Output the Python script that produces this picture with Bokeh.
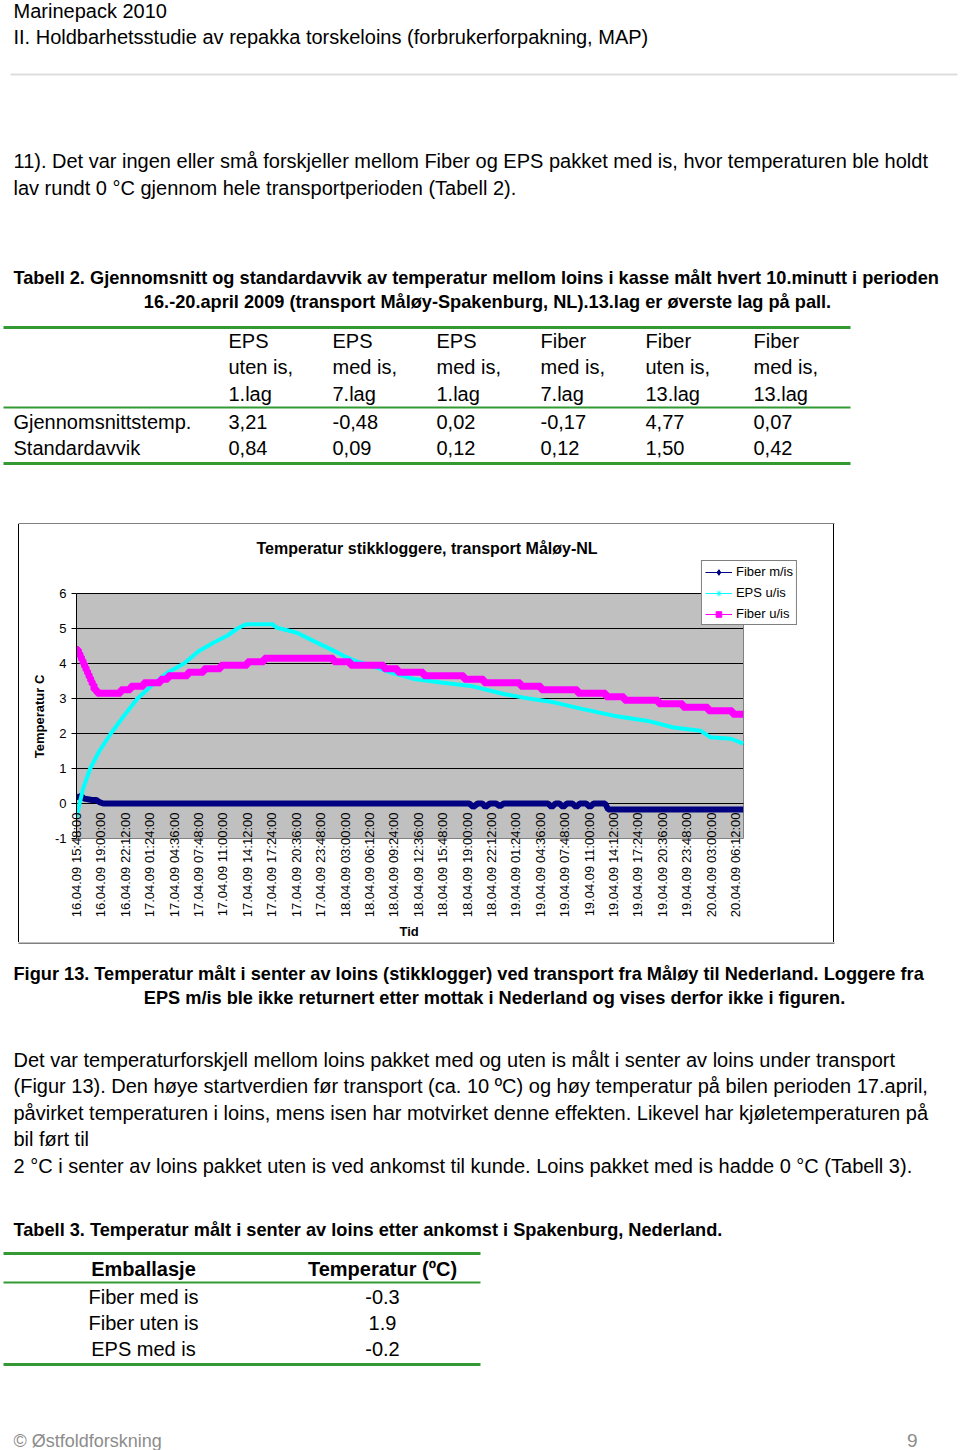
import math
import datetime as dt
from bokeh.plotting import figure
from bokeh.layouts import column, row
from bokeh.models import (Range1d, FixedTicker, Legend, LegendItem, ColumnDataSource, Spacer, Title)
from bokeh.core.properties import value
from bokeh.embed import file_html
from bokeh.resources import INLINE

FONT = "Liberation Sans"

# ---------------- chart data ----------------
chart_title = "Temperatur stikkloggere, transport Måløy-NL"
x_title = "Tid"
y_title = "Temperatur C"
x_labels = ["16.04.09 15:48:00", "16.04.09 19:00:00", "16.04.09 22:12:00", "17.04.09 01:24:00",
            "17.04.09 04:36:00", "17.04.09 07:48:00", "17.04.09 11:00:00", "17.04.09 14:12:00",
            "17.04.09 17:24:00", "17.04.09 20:36:00", "17.04.09 23:48:00", "18.04.09 03:00:00",
            "18.04.09 06:12:00", "18.04.09 09:24:00", "18.04.09 12:36:00", "18.04.09 15:48:00",
            "18.04.09 19:00:00", "18.04.09 22:12:00", "19.04.09 01:24:00", "19.04.09 04:36:00",
            "19.04.09 07:48:00", "19.04.09 11:00:00", "19.04.09 14:12:00", "19.04.09 17:24:00",
            "19.04.09 20:36:00", "19.04.09 23:48:00", "20.04.09 03:00:00", "20.04.09 06:12:00"]
x_end_hours = 87.44          # right edge of the grey plot area
y_ticks = [-1, 0, 1, 2, 3, 4, 5, 6]

# Fiber m/is (hours since first label, deg C)
fiber_mi_hours = [0.0, 0.3, 0.6, 1.0, 1.5, 2.0, 2.6, 3.0, 3.5, 51.5, 52.0, 52.6, 53.2, 53.6, 54.2,
                  55.0, 55.5, 56.0, 61.8, 62.3, 62.8, 63.3, 63.8, 64.3, 65.0, 65.5, 66.0, 66.8,
                  67.3, 67.8, 69.3, 69.7, 87.4]
fiber_mi_temp = [0.20, 0.18, 0.22, 0.14, 0.12, 0.10, 0.10, 0.04, 0.00, 0.00, -0.10, 0.00, 0.00,
                 -0.10, 0.00, 0.00, -0.08, 0.00, 0.00, -0.10, 0.00, 0.00, -0.10, 0.00, 0.00,
                 -0.10, 0.00, 0.00, -0.10, 0.00, 0.00, -0.17, -0.17]

# EPS u/is
eps_ui_hours = [0.0, 0.4, 0.9, 1.8, 3.0, 4.5, 6.2, 8.0, 10.0, 12.0, 14.1, 16.0, 18.0, 19.8, 21.1,
                22.2, 25.7, 26.3, 28.9, 31.1, 33.3, 35.0, 36.6, 38.5, 41.2, 44.2, 47.8, 51.7,
                56.0, 59.5, 62.6, 66.1, 70.4, 74.9, 78.3, 81.8, 83.1, 85.8, 87.4]
eps_ui_temp = [-0.40, 0.00, 0.45, 1.00, 1.50, 2.00, 2.50, 3.00, 3.40, 3.75, 4.00, 4.35, 4.60,
               4.80, 5.00, 5.12, 5.12, 5.02, 4.88, 4.64, 4.41, 4.22, 4.07, 3.95, 3.74, 3.56,
               3.46, 3.36, 3.13, 2.99, 2.89, 2.71, 2.51, 2.36, 2.17, 2.08, 1.89, 1.85, 1.71]

# Fiber u/is (step change times and levels)
fiber_ui_hours = [0.0, 0.25, 0.45, 0.65, 0.85, 1.05, 1.25, 1.45, 1.65, 1.85, 2.05, 2.3, 2.7, 5.8,
                  7.1, 8.8, 11.0, 12.0, 14.6, 16.7, 18.9, 22.4, 24.6, 33.7, 35.9, 40.3, 42.1,
                  45.5, 50.8, 53.4, 58.2, 60.9, 65.7, 69.4, 71.8, 76.3, 79.5, 82.8, 86.0, 87.4]
fiber_ui_temp = [4.40, 4.30, 4.20, 4.10, 4.00, 3.90, 3.80, 3.70, 3.60, 3.50, 3.40, 3.25, 3.15,
                 3.25, 3.35, 3.45, 3.55, 3.65, 3.75, 3.85, 3.95, 4.05, 4.15, 4.05, 3.95, 3.85,
                 3.75, 3.65, 3.55, 3.45, 3.35, 3.25, 3.15, 3.05, 2.95, 2.85, 2.75, 2.65, 2.55,
                 2.55]

series_names = ["Fiber m/is", "EPS u/is", "Fiber u/is"]
series_colors = ["#000080", "#00FFFF", "#FF00FF"]
series_markers = ["diamond", "asterisk", "square"]

# ---------------- table data ----------------
t2_head1 = ["EPS", "EPS", "EPS", "Fiber", "Fiber", "Fiber"]
t2_head2 = ["uten is,", "med is,", "med is,", "med is,", "uten is,", "med is,"]
t2_head3 = ["1.lag", "7.lag", "1.lag", "7.lag", "13.lag", "13.lag"]
t2_rows = ["Gjennomsnittstemp.", "Standardavvik"]
t2_mean = ["3,21", "-0,48", "0,02", "-0,17", "4,77", "0,07"]
t2_sd = ["0,84", "0,09", "0,12", "0,12", "1,50", "0,42"]

t3_head = ["Emballasje", "Temperatur (ºC)"]
t3_pack = ["Fiber med is", "Fiber uten is", "EPS med is"]
t3_temp = ["-0.3", "1.9", "-0.2"]

GREEN = "#339933"
CAP = 18.2


def page_fig(w, h, x0, y0):
    p = figure(width=w, height=h, x_range=Range1d(x0, x0 + w), y_range=Range1d(y0 + h, y0),
               output_backend="svg", toolbar_location=None, min_border=0,
               x_axis_type=None, y_axis_type=None)
    p.grid.visible = False
    p.outline_line_color = None
    p.background_fill_color = "white"
    p.border_fill_color = "white"
    return p


def txt(p, x, y, s, size=20, bold=False, align="left", color="#000000"):
    p.text(x=[x], y=[y], text=[s], text_font=value(FONT), text_font_size=f"{size}px",
           text_font_style="bold" if bold else "normal", text_align=align,
           text_baseline="middle", text_color=color)


def hline(p, x0, x1, y, color, w):
    p.line(x=[x0, x1], y=[y, y], line_color=color, line_width=w)


# ---------------- top page part (y 0..524) ----------------
top = page_fig(960, 524, 0, 0)
txt(top, 13, 10, "Marinepack 2010")
txt(top, 13, 36.5, "II. Holdbarhetsstudie av repakka torskeloins (forbrukerforpakning, MAP)")
hline(top, 10, 957, 74, "#dddddd", 2)
txt(top, 13, 160.5, "11). Det var ingen eller små forskjeller mellom Fiber og EPS pakket med is, hvor temperaturen ble holdt")
txt(top, 13, 187.5, "lav rundt 0 °C gjennom hele transportperioden (Tabell 2).")
txt(top, 13, 277, "Tabell 2. Gjennomsnitt og standardavvik av temperatur mellom loins i kasse målt hvert 10.minutt i perioden", CAP, True)
txt(top, 487, 301, "16.-20.april 2009 (transport Måløy-Spakenburg, NL).13.lag er øverste lag på pall.", CAP, True, "center")

hline(top, 3, 850, 327, GREEN, 3)
col_x = [228, 332, 436, 540, 645, 753]
for i, cx in enumerate(col_x):
    txt(top, cx, 340, t2_head1[i])
    txt(top, cx, 366, t2_head2[i])
    txt(top, cx, 393, t2_head3[i])
    txt(top, cx, 421, t2_mean[i])
    txt(top, cx, 447, t2_sd[i])
hline(top, 3, 850, 407, GREEN, 2)
txt(top, 13, 421, t2_rows[0])
txt(top, 13, 447, t2_rows[1])
hline(top, 3, 850, 463, GREEN, 3)
hline(top, 18, 834, 523.5, "#000000", 1)     # chart box, top edge

# ---------------- chart (canvas page x 19..833, y 524..942) ----------------
t0 = dt.datetime.strptime(x_labels[0], "%d.%m.%y %H:%M:%S")
tick_min = [int((dt.datetime.strptime(s, "%d.%m.%y %H:%M:%S") - t0).total_seconds() // 60) for s in x_labels]
x_end = x_end_hours * 60
# grey plot area: px 76..743 x 593..838 ; frame: px 76..797 x 560..872 (covers legend/title strip)
px_per_min = (743 - 76) / x_end
px_per_deg = (838 - 593) / (y_ticks[-1] - y_ticks[0])
x_frame_end = x_end + (797 - 743) / px_per_min
y_frame_top = y_ticks[-1] + (593 - 560) / px_per_deg
y_frame_bot = y_ticks[0] - (872 - 838) / px_per_deg

chart = figure(width=814, height=418, x_range=Range1d(0, x_frame_end),
               y_range=Range1d(y_frame_bot, y_frame_top),
               output_backend="svg", toolbar_location=None,
               min_border_left=57, min_border_right=36, min_border_top=36, min_border_bottom=70,
               background_fill_color="white", border_fill_color="white")
chart.outline_line_color = None
chart.title.text = chart_title
chart.title.text_font = FONT
chart.title.text_font_size = "16px"
chart.title.text_font_style = "bold"
chart.title.text_color = "#000000"
chart.title.align = "left"
chart.title.offset = 180
chart.title.standoff = 7

# grey plot area, its border, grid lines and the category axis line at 0
chart.quad(left=[0], right=[x_end], bottom=[y_ticks[0]], top=[y_ticks[-1]],
           fill_color="#c0c0c0", line_color=None, level="image")
grid_y = [t for t in y_ticks if t > 0]
chart.segment(x0=[0] * len(grid_y), x1=[x_end] * len(grid_y), y0=grid_y, y1=grid_y,
              line_color="#000000", line_width=1, level="underlay")
chart.line(x=[0, x_end, x_end], y=[y_ticks[0], y_ticks[0], y_ticks[-1]], line_color="#808080",
           line_width=1, level="underlay")
chart.line(x=[0, x_end], y=[0, 0], line_color="#000000", line_width=1, level="underlay")

xa = chart.xaxis[0]
xa.ticker = FixedTicker(ticks=tick_min)
xa.bounds = (0, x_end)
xa.major_label_overrides = {m: s for m, s in zip(tick_min, x_labels)}
xa.major_label_orientation = math.pi / 2
xa.major_label_text_font = FONT
xa.major_label_text_font_size = "13px"
xa.major_label_text_color = "#000000"
xa.major_label_standoff = 812 - 872
xa.major_tick_out = 0
xa.major_tick_in = 0
xa.minor_tick_out = 0
xa.minor_tick_in = 0
xa.axis_line_color = None

tid = Title(text=x_title, align="left", offset=323, vertical_align="bottom", standoff=3,
            text_font=FONT, text_font_size="13px", text_font_style="bold", text_color="#000000")
chart.add_layout(tid, "below")

ya = chart.yaxis[0]
ya.ticker = FixedTicker(ticks=y_ticks)
ya.bounds = (y_ticks[0], y_ticks[-1])
ya.major_label_overrides = {t: str(t) for t in y_ticks}
ya.major_label_text_font = FONT
ya.major_label_text_font_size = "13px"
ya.major_label_text_color = "#000000"
ya.major_tick_out = 5
ya.major_tick_in = 0
ya.minor_tick_out = 0
ya.minor_tick_in = 0
ya.major_label_standoff = 5
ya.axis_line_color = "#000000"
ya.axis_label = y_title
ya.axis_label_text_font = FONT
ya.axis_label_text_font_size = "13px"
ya.axis_label_text_font_style = "bold"
ya.axis_label_text_color = "#000000"
ya.axis_label_standoff = 5

chart.grid.visible = False

chart.line(x=[h * 60 for h in fiber_mi_hours], y=fiber_mi_temp, line_color=series_colors[0], line_width=6)
chart.line(x=[h * 60 for h in eps_ui_hours], y=eps_ui_temp, line_color=series_colors[1], line_width=4)
chart.step(x=[h * 60 for h in fiber_ui_hours], y=fiber_ui_temp, mode="after",
           line_color=series_colors[2], line_width=7)

# legend glyphs (one invisible NaN point each, so the legend can draw line + marker)
leg_src = ColumnDataSource(data=dict(x=[float("nan")], y=[float("nan")]))
items = []
for name, col, mk, sz in zip(series_names, series_colors, series_markers, [9, 8, 6]):
    lr = chart.line(x="x", y="y", source=leg_src, line_color=col, line_width=1)
    sr = chart.scatter(x="x", y="y", source=leg_src, marker=mk, size=sz, line_color=col, fill_color=col)
    items.append(LegendItem(label=name, renderers=[lr, sr]))
legend = Legend(items=items, location="top_right", border_line_color="#000000", border_line_width=1,
                background_fill_color="white", background_fill_alpha=1.0,
                label_text_font=FONT, label_text_font_size="13px", label_text_color="#000000",
                glyph_width=27, glyph_height=14, label_height=14, label_standoff=4,
                spacing=6, padding=3, margin=0)
chart.add_layout(legend)

# ---------------- bottom page part (y 942..1450) ----------------
bot = page_fig(960, 508, 0, 942)
hline(bot, 18, 834, 942.5, "#000000", 1)     # chart box, bottom edge
txt(bot, 13, 973, "Figur 13. Temperatur målt i senter av loins (stikklogger) ved transport fra Måløy til Nederland. Loggere fra", CAP, True)
txt(bot, 494, 997, "EPS m/is ble ikke returnert etter mottak i Nederland og vises derfor ikke i figuren.", CAP, True, "center")
para = ["Det var temperaturforskjell mellom loins pakket med og uten is målt i senter av loins under transport",
        "(Figur 13). Den høye startverdien før transport (ca. 10 ºC) og høy temperatur på bilen perioden 17.april,",
        "påvirket temperaturen i loins, mens isen har motvirket denne effekten. Likevel har kjøletemperaturen på",
        "bil ført til",
        "2 °C i senter av loins pakket uten is ved ankomst til kunde. Loins pakket med is hadde 0 °C (Tabell 3)."]
for yy, s in zip([1059.5, 1085.5, 1112.5, 1138.5, 1165.5], para):
    txt(bot, 13, yy, s)
txt(bot, 13, 1229, "Tabell 3. Temperatur målt i senter av loins etter ankomst i Spakenburg, Nederland.", CAP, True)
hline(bot, 3, 480, 1253, GREEN, 3)
txt(bot, 143, 1268, t3_head[0], 20, True, "center")
txt(bot, 382, 1268, t3_head[1], 20, True, "center")
hline(bot, 3, 480, 1282, GREEN, 2)
for yy, a, b in zip([1296, 1322, 1348], t3_pack, t3_temp):
    txt(bot, 143, yy, a, 20, False, "center")
    txt(bot, 382, yy, b, 20, False, "center")
hline(bot, 3, 480, 1364, GREEN, 3)
txt(bot, 13, 1440, "© Østfoldforskning", 18, False, "left", "#8c8c8c")
txt(bot, 917, 1440, "9", 19, False, "right", "#8c8c8c")

left_sp = Spacer(width=19, height=418,
                 styles={"border-right": "1px solid #000000", "box-sizing": "border-box"})
right_sp = Spacer(width=127, height=418,
                  styles={"border-left": "1px solid #000000", "box-sizing": "border-box"})
layout = column(top, row(left_sp, chart, right_sp, spacing=0), bot, spacing=0)
open("out.html", "w").write(file_html(layout, INLINE))
